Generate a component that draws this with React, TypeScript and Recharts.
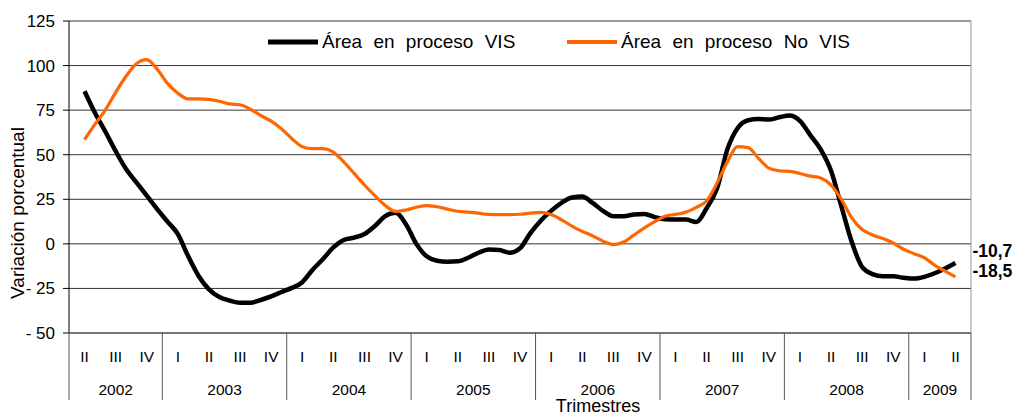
import React from 'react';
import { CartesianGrid, Legend, Line, LineChart, ReferenceLine, XAxis, YAxis } from 'recharts';

const FONT = '"Liberation Sans", Arial, sans-serif';

// quarters shown on the axis, 2002-II .. 2009-II
const quarterLabels = [
  'II', 'III', 'IV',
  'I', 'II', 'III', 'IV',
  'I', 'II', 'III', 'IV',
  'I', 'II', 'III', 'IV',
  'I', 'II', 'III', 'IV',
  'I', 'II', 'III', 'IV',
  'I', 'II', 'III', 'IV',
  'I', 'II',
];
const years = ['2002', '2003', '2004', '2005', '2006', '2007', '2008', '2009'];
const quartersPerYear = [3, 4, 4, 4, 4, 4, 4, 2];
const yTicks = [-50, -25, 0, 25, 50, 75, 100, 125];

// monthly points, first = middle month of 2002-II, last = middle month of 2009-II
const visValues = [
  85.6, 73.5, 63, 52, 42, 34.5, 27, 19.5, 12.5, 5.5,
  -7, -18, -25.5, -29.8, -31.8, -33, -33, -31.5, -29.5, -27,
  -24.7, -21.5, -14.5, -8.5, -2, 2.2, 3.5, 5.5, 10, 15.5,
  17.4, 11, 0, -7, -9.5, -10, -9.8, -7.8, -5, -3.2,
  -3.5, -5, -2.5, 6, 13, 18.5, 23, 26, 26.5, 23,
  18.5, 15.5, 15.5, 16.5, 16.8, 15, 13.8, 13.6, 13.6, 12.3,
  20, 31, 53, 65, 69.3, 70, 69.7, 71, 72, 69,
  61, 53, 41, 21, 1, -13, -17, -18.2, -18.2, -19,
  -19.5, -18.5, -16.5, -13.8, -10.7,
];
const noVisValues = [
  58.5, 67, 75, 85, 94, 101, 103.3, 98, 90, 84.5,
  81.3, 81.3, 81, 80, 78.5, 78, 75.5, 72, 68.8, 64.5,
  59, 54.5, 53.4, 53.4, 51.5, 46, 39.5, 33, 27, 21.5,
  18.2, 19, 20.5, 21.5, 20.8, 19.5, 18.3, 17.8, 17.2, 16.5,
  16.4, 16.4, 16.6, 17.2, 17.7, 16.4, 13.5, 10, 7, 4.5,
  1.5, -0.4, 1, 5, 9, 12.5, 15.5, 16.5, 17.8, 20.5,
  24, 34, 46, 54.5, 54, 48, 42.5, 41, 40.7, 39.5,
  38, 37, 33, 25, 14.6, 8, 5, 3, 0.5, -3,
  -5.5, -7.8, -12, -15.3, -18.5,
];
const endLabels = ['-10,7', '-18,5'];
const seriesOrder = ['vis', 'noVis'];

const data = visValues.map((v, k) => ({ k, vis: v, noVis: noVisValues[k] }));
const lastIndex = data.length - 1;

const quarterTicks = quarterLabels.map((_, i) => i * 3);
const yearCenters: number[] = [];
const yearBounds: number[] = [-1.5];
let start = -1.5;
quartersPerYear.forEach((n) => {
  yearCenters.push(start + n * 1.5);
  start += n * 3;
  yearBounds.push(start);
});
const yearTicks = [...yearBounds, ...yearCenters].sort((a, b) => a - b);
const DOMAIN: [number, number] = [-1.5, start];

const QUARTER_H = 34;
const YEAR_H = 33;

const QuarterTick = (props: any) => {
  const { x, y, payload } = props;
  return (
    <text x={x} y={y + 29} textAnchor="middle" fontSize={15.5} fontFamily={FONT} fill="#000">
      {quarterLabels[Math.round(payload.value / 3)]}
    </text>
  );
};

const YearTick = (props: any) => {
  const { x, y, payload } = props;
  const ci = yearCenters.indexOf(payload.value);
  if (ci >= 0) {
    return (
      <text x={x} y={y + 28} textAnchor="middle" fontSize={15.5} fontFamily={FONT} fill="#000">
        {years[ci]}
      </text>
    );
  }
  return <line x1={x} x2={x} y1={y - QUARTER_H} y2={y + YEAR_H} stroke="#555" strokeWidth={1} />;
};

const fmtY = (v: number) => (v < 0 ? `- ${-v}` : `${v}`);

const endLabel = (text: string, dy: number) => (props: any) => {
  const { x, y, index } = props;
  if (index !== lastIndex) return <g />;
  return (
    <text x={x + 17} y={y + dy} fontSize={17.5} fontWeight="bold" fontFamily={FONT} fill="#000">
      {text}
    </text>
  );
};

const renderLegend = (props: any) => {
  const items = [...(props.payload || [])].sort(
    (a: any, b: any) => seriesOrder.indexOf(a.dataKey) - seriesOrder.indexOf(b.dataKey),
  );
  return (
    <div style={{ display: 'flex', alignItems: 'center', fontFamily: FONT, fontSize: 19, wordSpacing: 6, height: 26, lineHeight: '26px', color: '#000' }}>
      {items.map((p: any, i: number) => (
        <div key={i} style={{ display: 'flex', alignItems: 'center', width: i === 0 ? 299 : 340, whiteSpace: 'nowrap' }}>
          <svg width={50} height={10}>
            <line x1={0} x2={50} y1={5} y2={5} stroke={p.color} strokeWidth={i === 0 ? 5 : 4} />
          </svg>
          <span style={{ marginLeft: 4 }}>{p.value}</span>
        </div>
      ))}
    </div>
  );
};

export default function App() {
  return (
    <div style={{ position: 'fixed', left: 0, top: 0, width: 1017, height: 417, background: '#fff', overflow: 'hidden' }}>
      <LineChart width={1017} height={417} data={data} margin={{ top: 21, right: 46, bottom: 17, left: 0 }} style={{ fontFamily: FONT }}>
        <CartesianGrid vertical={false} stroke="#333" />
        <XAxis
          dataKey="k"
          type="number"
          domain={DOMAIN}
          ticks={quarterTicks}
          interval={0}
          tick={QuarterTick}
          tickLine={false}
          tickSize={0}
          tickMargin={0}
          height={QUARTER_H}
          stroke="#555"
          allowDataOverflow
        />
        <XAxis
          xAxisId="year"
          dataKey="k"
          type="number"
          domain={DOMAIN}
          ticks={yearTicks}
          interval={0}
          tick={YearTick}
          axisLine={false}
          tickLine={false}
          tickSize={0}
          tickMargin={0}
          height={YEAR_H}
          allowDataOverflow
        />
        <YAxis
          domain={[-50, 125]}
          ticks={yTicks}
          interval={0}
          width={69}
          tickFormatter={fmtY}
          tick={{ fontSize: 17, fill: '#000', fontFamily: FONT }}
          tickSize={6}
          tickMargin={8}
          stroke="#000"
          allowDataOverflow
        />
        <ReferenceLine y={125} stroke="#999" />
        <ReferenceLine x={DOMAIN[1]} stroke="#999" />
        <Legend
          layout="horizontal"
          verticalAlign="middle"
          align="center"
          wrapperStyle={{ top: 29, left: 268, width: 660, height: 26 }}
          content={renderLegend}
        />
        <Line
          type="monotone"
          dataKey="vis"
          name="Área en proceso VIS"
          stroke="#000000"
          strokeWidth={4.5}
          dot={false}
          activeDot={false}
          strokeLinejoin="round"
          isAnimationActive={false}
          label={endLabel(endLabels[0], -6)}
        />
        <Line
          type="monotone"
          dataKey="noVis"
          name="Área en proceso No VIS"
          stroke="#FF6600"
          strokeWidth={3.2}
          dot={false}
          activeDot={false}
          strokeLinejoin="round"
          isAnimationActive={false}
          label={endLabel(endLabels[1], 0)}
        />
      </LineChart>
      <svg width={1017} height={417} style={{ position: 'absolute', left: 0, top: 0, pointerEvents: 'none' }}>
        <text x={0} y={0} transform="translate(24,213) rotate(-90)" textAnchor="middle" fontSize={19} fontFamily={FONT} fill="#000">
          Variación porcentual
        </text>
        <text x={598} y={412} textAnchor="middle" fontSize={18} fontFamily={FONT} fill="#000">
          Trimestres
        </text>
      </svg>
    </div>
  );
}
